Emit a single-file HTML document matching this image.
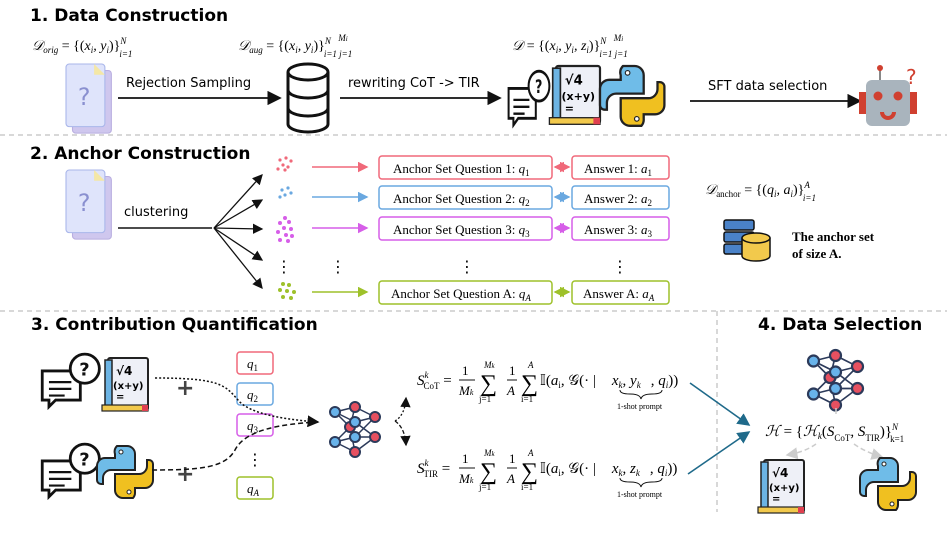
<!DOCTYPE html>
<html><head><meta charset="utf-8"><style>
body{margin:0;background:#fff}
svg{display:block}
.t{font-family:"Comic Sans MS","DejaVu Sans",sans-serif;font-weight:bold;font-size:17px}
.h{font-family:"DejaVu Sans",sans-serif;font-size:13px}
.m{font-family:"Liberation Serif",serif;font-size:14px;font-style:italic}
.s{font-family:"Liberation Serif",serif;font-size:13px}
</style></head><body>
<svg width="947" height="533" viewBox="0 0 947 533" xmlns="http://www.w3.org/2000/svg">
<defs>
<marker id="ak" markerWidth="8" markerHeight="8" refX="7" refY="4" orient="auto"><path d="M0,0L8,4L0,8z" fill="#111"/></marker>
<marker id="ar" markerWidth="7" markerHeight="7" refX="6" refY="3.5" orient="auto-start-reverse"><path d="M0,0L7,3.5L0,7z" fill="#f0697a"/></marker>
<marker id="ab" markerWidth="7" markerHeight="7" refX="6" refY="3.5" orient="auto-start-reverse"><path d="M0,0L7,3.5L0,7z" fill="#6aa8e0"/></marker>
<marker id="am" markerWidth="7" markerHeight="7" refX="6" refY="3.5" orient="auto-start-reverse"><path d="M0,0L7,3.5L0,7z" fill="#d65ee8"/></marker>
<marker id="ag" markerWidth="7" markerHeight="7" refX="6" refY="3.5" orient="auto-start-reverse"><path d="M0,0L7,3.5L0,7z" fill="#9ec12a"/></marker>
<marker id="at" markerWidth="8" markerHeight="8" refX="7" refY="4" orient="auto"><path d="M0,0L8,4L0,8z" fill="#1f6a8a"/></marker>
<marker id="agr" markerWidth="8" markerHeight="8" refX="7" refY="4" orient="auto"><path d="M0,0L8,4L0,8z" fill="#ccc"/></marker>
<g id="doc"><rect x="6" y="6" width="36" height="58" rx="3" fill="#cfc7ee" stroke="#b9aee0"/><rect x="0" y="0" width="36" height="58" rx="3" fill="#dfe4fb" stroke="#a9b6ea"/><path d="M26 0L36 10H26z" fill="#f4e7a6"/><text x="11" y="38" font-size="22" fill="#8a90d0" font-family="DejaVu Sans">?</text></g>
<g id="book"><rect x="0" y="0" width="40" height="52" rx="2" fill="#eef0f7" stroke="#222" stroke-width="2"/><rect x="-3" y="2" width="7" height="50" fill="#6cb4e4" stroke="#222" stroke-width="1.5"/><text x="8" y="17" font-size="12" font-weight="bold" font-family="DejaVu Sans">√4</text><text x="5" y="31" font-size="10" font-weight="bold" font-family="DejaVu Sans">(x+y)</text><text x="8" y="42" font-size="10" font-weight="bold" font-family="DejaVu Sans">=</text><rect x="-6" y="47" width="46" height="6" fill="#f2c94c" stroke="#222" stroke-width="1.2"/><rect x="34" y="47" width="6" height="6" fill="#e04050"/></g>
<g id="py"><path d="M20 0h10a8 8 0 0 1 8 8v16H14a8 8 0 0 0-8 8v6H4a4 4 0 0 1-4-4V20a8 8 0 0 1 8-8h10V8a8 8 0 0 1 2-8z" fill="#6fbce8" stroke="#222" stroke-width="2"/><path d="M36 52H26a8 8 0 0 1-8-8V28h24a8 8 0 0 0 8-8v-6h2a4 4 0 0 1 4 4v16a8 8 0 0 1-8 8H38v4a8 8 0 0 1-2 6z" fill="#f0c020" stroke="#222" stroke-width="2"/><circle cx="24" cy="6" r="2" fill="#fff" stroke="#222"/><circle cx="32" cy="46" r="2" fill="#fff" stroke="#222"/></g>
<g id="chat" fill="#fff" stroke="#111" stroke-width="2.5"><path d="M2 16h34v26H14l-6 6v-6H2z"/><circle cx="40" cy="14" r="13"/><text x="35" y="20" font-size="16" stroke="none" fill="#111" font-family="DejaVu Sans" font-weight="bold">?</text><path d="M8 26h20M8 32h20M8 38h14" stroke-width="2"/></g>
<g id="net" stroke="#2c3a5a" stroke-width="1.5"><path fill="none" d="M5 10L20 25L5 40M5 10L25 5M5 10L25 20M20 25L25 5M20 25L25 20M20 25L25 35M20 25L25 50M5 40L25 35M5 40L25 50M25 5L45 15M25 20L45 15M25 20L45 35M25 35L45 15M25 35L45 35M25 50L45 35"/><g stroke-width="2"><circle cx="5" cy="10" r="5" fill="#68b3ea"/><circle cx="20" cy="25" r="5" fill="#e65060"/><circle cx="5" cy="40" r="5" fill="#68b3ea"/><circle cx="25" cy="5" r="5" fill="#e65060"/><circle cx="25" cy="20" r="5" fill="#68b3ea"/><circle cx="25" cy="35" r="5" fill="#68b3ea"/><circle cx="25" cy="50" r="5" fill="#e65060"/><circle cx="45" cy="15" r="5" fill="#e65060"/><circle cx="45" cy="35" r="5" fill="#e65060"/></g></g>
</defs>

<!-- section 1 -->
<text class="t" x="30" y="21">1. Data Construction</text>
<text class="m" x="32" y="50" font-size="15">𝒟<tspan font-size="9" dy="3">orig</tspan><tspan dy="-3" font-style="normal"> = {(</tspan>x<tspan font-size="9" dy="3">i</tspan><tspan dy="-3">, y</tspan><tspan font-size="9" dy="3">i</tspan><tspan dy="-3" font-style="normal">)}</tspan><tspan font-size="9" dy="-6">N</tspan><tspan font-size="9" dx="-7" dy="13">i=1</tspan></text>
<text class="m" x="238" y="50" font-size="15">𝒟<tspan font-size="9" dy="3">aug</tspan><tspan dy="-3" font-style="normal"> = {(</tspan>x<tspan font-size="9" dy="3">i</tspan><tspan dy="-3">, y</tspan><tspan font-size="9" dy="3">i</tspan><tspan dy="-3" font-style="normal">)}</tspan><tspan font-size="9" dy="-6">N</tspan><tspan font-size="9" dx="-7" dy="13">i=1 j=1</tspan><tspan font-size="9" dx="-14" dy="-16">M</tspan><tspan font-size="7">i</tspan></text>
<text class="m" x="512" y="50" font-size="15">𝒟<tspan dy="0" font-style="normal"> = {(</tspan>x<tspan font-size="9" dy="3">i</tspan><tspan dy="-3">, y</tspan><tspan font-size="9" dy="3">i</tspan><tspan dy="-3">, z</tspan><tspan font-size="9" dy="3">i</tspan><tspan dy="-3" font-style="normal">)}</tspan><tspan font-size="9" dy="-6">N</tspan><tspan font-size="9" dx="-7" dy="13">i=1 j=1</tspan><tspan font-size="9" dx="-14" dy="-16">M</tspan><tspan font-size="7">i</tspan></text>
<use href="#doc" transform="translate(66,64) scale(1.08)"/>
<line x1="118" y1="98" x2="280" y2="98" stroke="#111" stroke-width="1.8" marker-end="url(#ak)"/>
<text class="h" x="126" y="87">Rejection Sampling</text>
<g fill="#fff" stroke="#111" stroke-width="3"><path d="M288 72v52a20 8 0 0 0 40 0V72"/><ellipse cx="308" cy="72" rx="20" ry="8"/><path d="M288 90a20 8 0 0 0 40 0M288 108a20 8 0 0 0 40 0"/></g>
<line x1="340" y1="98" x2="500" y2="98" stroke="#111" stroke-width="1.8" marker-end="url(#ak)"/>
<text class="h" x="348" y="87">rewriting CoT -&gt; TIR</text>
<use href="#chat" transform="translate(507,70) scale(0.8,1.15)"/>
<use href="#book" transform="translate(556,66) scale(1.1)"/>
<use href="#py" transform="translate(600,66) scale(1.15)"/>
<line x1="690" y1="101" x2="860" y2="101" stroke="#111" stroke-width="1.8" marker-end="url(#ak)"/>
<text class="h" x="708" y="90">SFT data selection</text>
<g><line x1="880" y1="70" x2="880" y2="80" stroke="#888" stroke-width="2"/><circle cx="880" cy="68" r="3" fill="#d04030"/><rect x="866" y="80" width="44" height="46" rx="6" fill="#a9b4bd"/><rect x="859" y="92" width="7" height="22" fill="#d04030"/><rect x="910" y="92" width="7" height="22" fill="#d04030"/><circle cx="878" cy="96" r="4.5" fill="#d04030"/><circle cx="898" cy="96" r="4.5" fill="#d04030"/><path d="M882 112a6 6 0 1 0 12 0" stroke="#d04030" stroke-width="4" fill="none"/><text x="906" y="84" fill="#d04030" font-size="20" font-family="DejaVu Sans">?</text></g>
<line x1="0" y1="135" x2="947" y2="135" stroke="#ccc" stroke-width="1.5" stroke-dasharray="5,4"/>

<!-- section 2 -->
<text class="t" x="30" y="159">2. Anchor Construction</text>
<use href="#doc" transform="translate(66,170) scale(1.08)"/>
<text class="h" x="124" y="216">clustering</text>
<line x1="118" y1="228" x2="212" y2="228" stroke="#111" stroke-width="1.5"/>
<g stroke="#111" stroke-width="1.3" marker-end="url(#ak)"><line x1="214" y1="228" x2="262" y2="175"/><line x1="214" y1="228" x2="262" y2="200"/><line x1="214" y1="228" x2="262" y2="229"/><line x1="214" y1="228" x2="262" y2="260"/><line x1="214" y1="228" x2="262" y2="288"/></g>
<g fill="#f0697a"><circle cx="280" cy="160" r="1.6"/><circle cx="286" cy="158" r="1.6"/><circle cx="291" cy="161" r="1.6"/><circle cx="283" cy="165" r="1.6"/><circle cx="288" cy="167" r="1.6"/><circle cx="285" cy="170" r="1.6"/><circle cx="278" cy="169" r="1.6"/></g>
<g fill="#6aa8e0"><circle cx="282" cy="190" r="1.6"/><circle cx="288" cy="188" r="1.6"/><circle cx="285" cy="195" r="1.6"/><circle cx="291" cy="193" r="1.6"/><circle cx="280" cy="197" r="1.6"/></g>
<g fill="#d65ee8"><circle cx="285" cy="218" r="2"/><circle cx="280" cy="223" r="2"/><circle cx="289" cy="222" r="2"/><circle cx="284" cy="228" r="2"/><circle cx="291" cy="229" r="2"/><circle cx="278" cy="232" r="2"/><circle cx="286" cy="235" r="2"/><circle cx="292" cy="236" r="2"/><circle cx="280" cy="240" r="2"/><circle cx="288" cy="241" r="2"/></g>
<g fill="#9ec12a"><circle cx="283" cy="284" r="2"/><circle cx="289" cy="285" r="2"/><circle cx="280" cy="290" r="2"/><circle cx="287" cy="291" r="2"/><circle cx="294" cy="292" r="2"/><circle cx="283" cy="297" r="2"/><circle cx="291" cy="298" r="2"/></g>
<g font-size="16" font-family="DejaVu Sans" text-anchor="middle"><text x="284" y="272">⋮</text><text x="338" y="272">⋮</text><text x="467" y="272">⋮</text><text x="620" y="272">⋮</text></g>
<line x1="312" y1="167" x2="367" y2="167" stroke="#f0697a" stroke-width="1.5" marker-end="url(#ar)"/>
<line x1="312" y1="197" x2="367" y2="197" stroke="#6aa8e0" stroke-width="1.5" marker-end="url(#ab)"/>
<line x1="312" y1="228" x2="367" y2="228" stroke="#d65ee8" stroke-width="1.5" marker-end="url(#am)"/>
<line x1="312" y1="292" x2="367" y2="292" stroke="#9ec12a" stroke-width="1.5" marker-end="url(#ag)"/>
<g fill="none" stroke-width="1.5">
<rect x="379" y="156" width="173" height="23" rx="3" stroke="#f0697a"/><rect x="572" y="156" width="97" height="23" rx="3" stroke="#f0697a"/>
<rect x="379" y="186" width="173" height="23" rx="3" stroke="#6aa8e0"/><rect x="572" y="186" width="97" height="23" rx="3" stroke="#6aa8e0"/>
<rect x="379" y="217" width="173" height="23" rx="3" stroke="#d65ee8"/><rect x="572" y="217" width="97" height="23" rx="3" stroke="#d65ee8"/>
<rect x="379" y="281" width="173" height="23" rx="3" stroke="#9ec12a"/><rect x="572" y="281" width="97" height="23" rx="3" stroke="#9ec12a"/>
<line x1="555" y1="167" x2="569" y2="167" stroke="#f0697a" marker-start="url(#ar)" marker-end="url(#ar)"/>
<line x1="555" y1="197" x2="569" y2="197" stroke="#6aa8e0" marker-start="url(#ab)" marker-end="url(#ab)"/>
<line x1="555" y1="228" x2="569" y2="228" stroke="#d65ee8" marker-start="url(#am)" marker-end="url(#am)"/>
<line x1="555" y1="292" x2="569" y2="292" stroke="#9ec12a" marker-start="url(#ag)" marker-end="url(#ag)"/>
</g>
<g class="s" font-size="13">
<text x="393" y="173">Anchor Set Question 1: <tspan font-style="italic">q</tspan><tspan font-size="9" dy="3">1</tspan></text>
<text x="393" y="203">Anchor Set Question 2: <tspan font-style="italic">q</tspan><tspan font-size="9" dy="3">2</tspan></text>
<text x="393" y="234">Anchor Set Question 3: <tspan font-style="italic">q</tspan><tspan font-size="9" dy="3">3</tspan></text>
<text x="391" y="298">Anchor Set Question A: <tspan font-style="italic">q</tspan><tspan font-size="9" dy="3" font-style="italic">A</tspan></text>
<text x="584" y="173">Answer 1: <tspan font-style="italic">a</tspan><tspan font-size="9" dy="3">1</tspan></text>
<text x="584" y="203">Answer 2: <tspan font-style="italic">a</tspan><tspan font-size="9" dy="3">2</tspan></text>
<text x="584" y="234">Answer 3: <tspan font-style="italic">a</tspan><tspan font-size="9" dy="3">3</tspan></text>
<text x="583" y="298">Answer A: <tspan font-style="italic">a</tspan><tspan font-size="9" dy="3" font-style="italic">A</tspan></text>
</g>
<text class="m" x="705" y="194" font-size="15">𝒟<tspan font-size="9" dy="3" font-style="normal">anchor</tspan><tspan dy="-3" font-style="normal"> = {(</tspan>q<tspan font-size="9" dy="3">i</tspan><tspan dy="-3">, a</tspan><tspan font-size="9" dy="3">i</tspan><tspan dy="-3" font-style="normal">)}</tspan><tspan font-size="9" dy="-6">A</tspan><tspan font-size="9" dx="-7" dy="13">i=1</tspan></text>
<g stroke="#111" stroke-width="1.5"><rect x="724" y="220" width="30" height="10" rx="2" fill="#4a82c8"/><rect x="724" y="232" width="30" height="10" rx="2" fill="#4a82c8"/><rect x="724" y="244" width="30" height="10" rx="2" fill="#4a82c8"/><path d="M742 238v18a14 5 0 0 0 28 0V238" fill="#f2c94c"/><ellipse cx="756" cy="238" rx="14" ry="5" fill="#f2c94c"/></g>
<text x="792" y="241" font-family="Liberation Serif" font-weight="bold" font-size="13">The anchor set</text>
<text x="792" y="258" font-family="Liberation Serif" font-weight="bold" font-size="13">of size A.</text>
<line x1="0" y1="311" x2="947" y2="311" stroke="#ccc" stroke-width="1.5" stroke-dasharray="5,4"/>
<line x1="717" y1="311" x2="717" y2="512" stroke="#ccc" stroke-width="1.5" stroke-dasharray="5,4"/>

<!-- section 3 -->
<text class="t" x="31" y="330">3. Contribution Quantification</text>
<use href="#chat" transform="translate(40,353) scale(1.12)"/>
<use href="#book" x="108" y="358"/>
<use href="#chat" transform="translate(40,443) scale(1.12)"/>
<use href="#py" x="97" y="446"/>
<text x="176" y="395" font-size="22" font-weight="bold" fill="#444" font-family="DejaVu Sans">+</text>
<text x="176" y="481" font-size="22" font-weight="bold" fill="#444" font-family="DejaVu Sans">+</text>
<g fill="none" stroke-width="1.5">
<rect x="237" y="352" width="36" height="22" rx="3" stroke="#f0697a"/>
<rect x="237" y="383" width="36" height="22" rx="3" stroke="#6aa8e0"/>
<rect x="237" y="414" width="36" height="22" rx="3" stroke="#d65ee8"/>
<rect x="237" y="477" width="36" height="22" rx="3" stroke="#9ec12a"/>
</g>
<g class="s" font-style="italic" font-size="13"><text x="247" y="368">q<tspan font-size="9" dy="3" font-style="normal">1</tspan></text><text x="247" y="399">q<tspan font-size="9" dy="3" font-style="normal">2</tspan></text><text x="247" y="430">q<tspan font-size="9" dy="3" font-style="normal">3</tspan></text><text x="247" y="493">q<tspan font-size="9" dy="3">A</tspan></text></g>
<text x="255" y="465" font-size="16" text-anchor="middle" font-family="DejaVu Sans">⋮</text>
<path d="M155 378C220 378 225 385 238 400C250 415 290 420 318 422" fill="none" stroke="#111" stroke-width="1.5" stroke-dasharray="2,2" marker-end="url(#ak)"/>
<path d="M152 470C200 470 225 468 235 450C245 430 280 424 318 422" fill="none" stroke="#111" stroke-width="1.5" stroke-dasharray="5,3"/>
<use href="#net" x="330" y="402"/>
<path d="M395 421Q405 415 406 398" fill="none" stroke="#111" stroke-width="1.3" stroke-dasharray="2,2" marker-end="url(#ak)"/>
<path d="M395 421Q405 428 406 445" fill="none" stroke="#111" stroke-width="1.3" stroke-dasharray="4,2" marker-end="url(#ak)"/>
<g font-family="Liberation Serif" font-size="15">
<text x="417" y="385"><tspan font-style="italic">S</tspan><tspan font-size="9" dy="-7" font-style="italic">k</tspan><tspan font-size="9" dx="-5" dy="11">CoT</tspan><tspan dy="-4"> = </tspan></text>
<text x="462" y="375" font-size="13">1</text><line x1="459" y1="380" x2="475" y2="380" stroke="#111"/><text x="459" y="395" font-size="13" font-style="italic">M<tspan font-size="8">k</tspan></text>
<text x="480" y="391" font-size="24">∑</text><text x="484" y="368" font-size="9" font-style="italic">M<tspan font-size="7">k</tspan></text><text x="479" y="402" font-size="9">j=1</text>
<text x="509" y="375" font-size="13">1</text><line x1="507" y1="380" x2="517" y2="380" stroke="#111"/><text x="507" y="395" font-size="13" font-style="italic">A</text>
<text x="521" y="391" font-size="24">∑</text><text x="528" y="368" font-size="9" font-style="italic">A</text><text x="521" y="402" font-size="9">i=1</text>
<text x="540" y="385">𝕀(<tspan font-style="italic">a</tspan><tspan font-size="9" dy="3">i</tspan><tspan dy="-3">, 𝒢(· |</tspan><tspan dx="16" font-style="italic">x</tspan><tspan font-size="9" dy="3" font-style="italic">k</tspan><tspan dy="-3">, </tspan><tspan font-style="italic">y</tspan><tspan font-size="9" dy="3" font-style="italic">k</tspan><tspan dx="10" dy="-3">, </tspan><tspan font-style="italic">q</tspan><tspan font-size="9" dy="3" font-style="italic">i</tspan><tspan dy="-3">))</tspan></text>
<path d="M620 390q0 4 10 4t11 5q1-5 11-5t10-4" fill="none" stroke="#111"/>
<text x="617" y="409" font-size="8">1-shot prompt</text>
<text x="417" y="473"><tspan font-style="italic">S</tspan><tspan font-size="9" dy="-7" font-style="italic">k</tspan><tspan font-size="9" dx="-5" dy="11">TIR</tspan><tspan dy="-4"> = </tspan></text>
<text x="462" y="463" font-size="13">1</text><line x1="459" y1="468" x2="475" y2="468" stroke="#111"/><text x="459" y="483" font-size="13" font-style="italic">M<tspan font-size="8">k</tspan></text>
<text x="480" y="479" font-size="24">∑</text><text x="484" y="456" font-size="9" font-style="italic">M<tspan font-size="7">k</tspan></text><text x="479" y="490" font-size="9">j=1</text>
<text x="509" y="463" font-size="13">1</text><line x1="507" y1="468" x2="517" y2="468" stroke="#111"/><text x="507" y="483" font-size="13" font-style="italic">A</text>
<text x="521" y="479" font-size="24">∑</text><text x="528" y="456" font-size="9" font-style="italic">A</text><text x="521" y="490" font-size="9">i=1</text>
<text x="540" y="473">𝕀(<tspan font-style="italic">a</tspan><tspan font-size="9" dy="3">i</tspan><tspan dy="-3">, 𝒢(· |</tspan><tspan dx="16" font-style="italic">x</tspan><tspan font-size="9" dy="3" font-style="italic">k</tspan><tspan dy="-3">, </tspan><tspan font-style="italic">z</tspan><tspan font-size="9" dy="3" font-style="italic">k</tspan><tspan dx="10" dy="-3">, </tspan><tspan font-style="italic">q</tspan><tspan font-size="9" dy="3" font-style="italic">i</tspan><tspan dy="-3">))</tspan></text>
<path d="M620 478q0 4 10 4t11 5q1-5 11-5t10-4" fill="none" stroke="#111"/>
<text x="617" y="497" font-size="8">1-shot prompt</text>
</g>
<line x1="690" y1="383" x2="749" y2="425" stroke="#1f6a8a" stroke-width="1.6" marker-end="url(#at)"/>
<line x1="688" y1="474" x2="749" y2="432" stroke="#1f6a8a" stroke-width="1.6" marker-end="url(#at)"/>

<!-- section 4 -->
<text class="t" x="758" y="330">4. Data Selection</text>
<use href="#net" transform="translate(808,350) scale(1.1)"/>
<line x1="836" y1="408" x2="836" y2="414" stroke="#ccc" stroke-width="1.5"/>
<text x="765" y="436" font-family="Liberation Serif" font-size="15"><tspan font-style="italic">ℋ</tspan> = {<tspan font-style="italic">ℋ</tspan><tspan font-size="9" dy="3" font-style="italic">k</tspan><tspan dy="-3">(</tspan><tspan font-style="italic">S</tspan><tspan font-size="9" dy="5">CoT</tspan><tspan dy="-5">, </tspan><tspan font-style="italic">S</tspan><tspan font-size="9" dy="5">TIR</tspan><tspan dy="-5">)}</tspan><tspan font-size="9" dy="-6" font-style="italic">N</tspan><tspan font-size="9" dx="-8" dy="12">k=1</tspan></text>
<path d="M816 444Q805 452 787 455" fill="none" stroke="#ccc" stroke-width="1.5" stroke-dasharray="5,3" marker-end="url(#agr)"/>
<path d="M854 444Q865 452 882 457" fill="none" stroke="#ccc" stroke-width="1.5" stroke-dasharray="5,3" marker-end="url(#agr)"/>
<use href="#book" x="764" y="460"/>
<use href="#py" x="860" y="458"/>
</svg>
</body></html>
